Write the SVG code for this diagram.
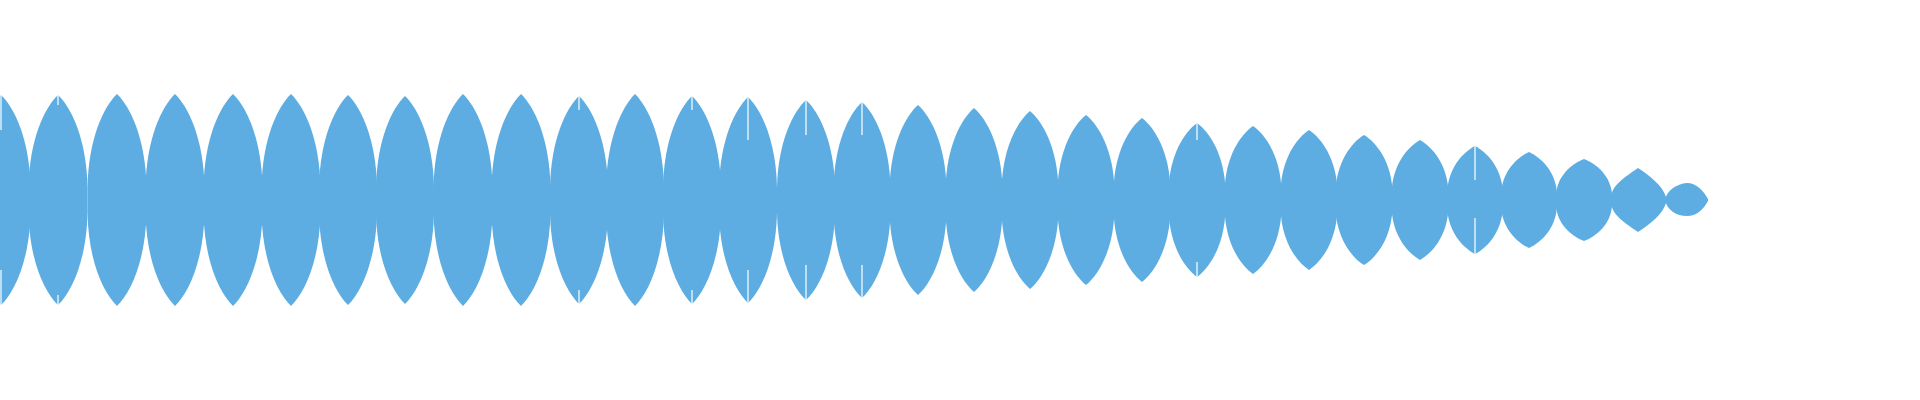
<svg xmlns="http://www.w3.org/2000/svg" width="1920" height="400" viewBox="0 0 1920 400">
<style>.l{fill:#5DADE2}.g{stroke:#fff;stroke-width:1.2}</style>
<defs><path id="lens" d="M-1,-0.12 C-0.97,-0.58 -0.45,-0.88 0,-1 C0.45,-0.88 0.97,-0.58 1,-0.12 L1,0.12 C0.97,0.58 0.45,0.88 0,1 C-0.45,0.88 -0.97,0.58 -1,0.12 Z"/></defs>
<rect width="1920" height="400" fill="#fff"/>
<g id="wave" class="l">
<use href="#lens" transform="translate(1,200) scale(29.5,105)"/>
<use href="#lens" transform="translate(58,200) scale(29.5,105)"/>
<use href="#lens" transform="translate(117,200) scale(29.5,106)"/>
<use href="#lens" transform="translate(175,200) scale(29.5,106)"/>
<use href="#lens" transform="translate(233,200) scale(29.5,106)"/>
<use href="#lens" transform="translate(291,200) scale(29.5,106)"/>
<use href="#lens" transform="translate(348,200) scale(29,105)"/>
<use href="#lens" transform="translate(405,200) scale(29,104)"/>
<use href="#lens" transform="translate(463,200) scale(29.5,106)"/>
<use href="#lens" transform="translate(521,200) scale(29.5,106)"/>
<use href="#lens" transform="translate(579,200) scale(29,104)"/>
<use href="#lens" transform="translate(635,200) scale(29,106)"/>
<use href="#lens" transform="translate(692,200) scale(29,104)"/>
<use href="#lens" transform="translate(748,200) scale(29,103)"/>
<use href="#lens" transform="translate(806,200) scale(29,100)"/>
<use href="#lens" transform="translate(862,200) scale(28.5,98)"/>
<use href="#lens" transform="translate(918,200) scale(28.5,95)"/>
<use href="#lens" transform="translate(974,200) scale(28.5,92)"/>
<use href="#lens" transform="translate(1030,200) scale(28.5,89)"/>
<use href="#lens" transform="translate(1086,200) scale(28.5,85)"/>
<use href="#lens" transform="translate(1142,200) scale(28.5,82)"/>
<use href="#lens" transform="translate(1197,200) scale(28.5,77)"/>
<use href="#lens" transform="translate(1253,200) scale(28.5,74)"/>
<use href="#lens" transform="translate(1309,200) scale(28.5,70)"/>
<use href="#lens" transform="translate(1364,200) scale(28.5,65)"/>
<use href="#lens" transform="translate(1420,200) scale(28.5,60)"/>
<use href="#lens" transform="translate(1475,200) scale(28,54)"/>
<use href="#lens" transform="translate(1529,200) scale(28,48)"/>
<use href="#lens" transform="translate(1584,200) scale(28,41)"/>
<path d="M1611,197 C1612,185 1625,177 1638,168 C1650,176 1663,186 1666,197 L1666,203 C1663,214 1650,224 1638,232 C1625,223 1612,215 1611,203 Z"/>
<path d="M1665,199 C1668,190 1676,184 1687,183 C1696,183 1703,190 1708,199 L1708,201 C1703,210 1696,216 1687,216 C1676,216 1668,210 1665,201 Z"/>
</g>
<g id="gaps" class="g">
<line x1="1" y1="95" x2="1" y2="130"/><line x1="1" y1="270" x2="1" y2="305"/>
<line x1="58" y1="95" x2="58" y2="105"/><line x1="58" y1="295" x2="58" y2="305"/>
<line x1="579" y1="95" x2="579" y2="110"/><line x1="579" y1="290" x2="579" y2="305"/>
<line x1="692" y1="95" x2="692" y2="110"/><line x1="692" y1="290" x2="692" y2="305"/>
<line x1="748" y1="95" x2="748" y2="140"/><line x1="748" y1="270" x2="748" y2="305"/>
<line x1="806" y1="98" x2="806" y2="135"/><line x1="806" y1="265" x2="806" y2="302"/>
<line x1="862" y1="100" x2="862" y2="135"/><line x1="862" y1="265" x2="862" y2="300"/>
<line x1="1197" y1="120" x2="1197" y2="140"/><line x1="1197" y1="262" x2="1197" y2="280"/>
<line x1="1475" y1="146" x2="1475" y2="180"/><line x1="1475" y1="218" x2="1475" y2="254"/>
</g>
</svg>
